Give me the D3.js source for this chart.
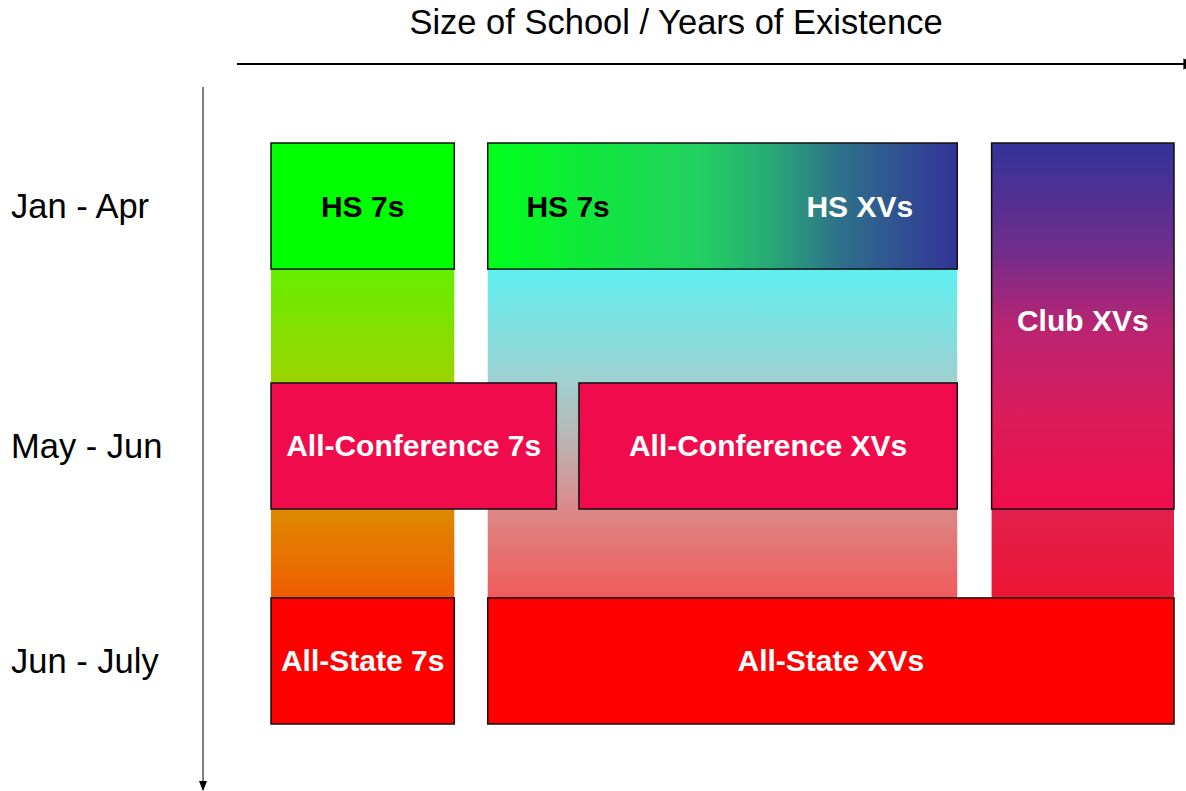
<!DOCTYPE html>
<html>
<head>
<meta charset="utf-8">
<script src="https://cdn.jsdelivr.net/npm/d3@7"></script>
<style>
  body { margin: 0; background: #fff; }
  text { font-family: "Liberation Sans", Arial, sans-serif; }
</style>
</head>
<body>
<svg id="chart" width="1186" height="791"></svg>
<script>
// rows (time of year) and the boxes laid on the grid (x in size units 0-100, y in season units 0-100)
var rowLabels = ["Jan - Apr", "May - Jun", "Jun - July"];
var rowSpans = [[0, 21.7], [41.3, 63.0], [78.3, 100]];

// background strips that join the boxes
var strips = [
  {name: "colA", x0: 0, x1: 20.3, y0: 21.7, y1: 78.3},
  {name: "colB", x0: 24.0, x1: 76.0, y0: 21.7, y1: 78.3},
  {name: "colC", x0: 79.8, x1: 100, y0: 63.0, y1: 78.3}
];

var boxes = [
  {label: "HS 7s", x0: 0, x1: 20.3, row: 0, fill: "hs7", ink: "black"},
  {label: "", x0: 24.0, x1: 76.0, row: 0, fill: "hsMix", ink: "black"},
  {label: "Club XVs", x0: 79.8, x1: 100, row: 0, rowEnd: 1, fill: "club", ink: "white"},
  {label: "All-Conference 7s", x0: 0, x1: 31.6, row: 1, fill: "conf", ink: "white"},
  {label: "All-Conference XVs", x0: 34.1, x1: 76.0, row: 1, fill: "conf", ink: "white"},
  {label: "All-State 7s", x0: 0, x1: 20.3, row: 2, fill: "state", ink: "white"},
  {label: "All-State XVs", x0: 24.0, x1: 100, row: 2, fill: "state", ink: "white"}
];

// two labels share the mixed HS box
var mixLabels = [
  {label: "HS 7s", at: 32.9, ink: "black"},
  {label: "HS XVs", at: 65.2, ink: "white"}
];

var svg = d3.select("#chart");
var x = d3.scaleLinear().domain([0, 100]).range([271, 1174]);
var y = d3.scaleLinear().domain([0, 100]).range([143, 724]);

var defs = svg.append("defs");

function grad(id, stops, horizontal) {
  var g = defs.append("linearGradient").attr("id", id)
    .attr("x1", 0).attr("y1", 0)
    .attr("x2", horizontal ? 1 : 0).attr("y2", horizontal ? 0 : 1);
  stops.forEach(function(s) {
    g.append("stop").attr("offset", s[0]).attr("stop-color", s[1]);
  });
}

grad("colA", [[0, "#66ee00"], [0.34, "#9bd400"], [0.73, "#de8a00"], [1, "#f05c00"]]);
grad("colB", [[0, "#60f0f0"], [0.34, "#a0d0d0"], [0.52, "#bbb4b4"], [0.73, "#dc8888"], [1, "#f05a5a"]]);
grad("colC", [[0, "#e0204c"], [1, "#ee1535"]]);
grad("club", [[0, "#333399"], [0.3, "#722d8c"], [0.5, "#b92472"], [0.75, "#dc1c5c"], [1, "#f00c4c"]]);
grad("hsMix", [[0, "#00ff1a"], [0.45, "#22d060"], [0.6, "#28aa76"], [0.75, "#2e718a"], [1, "#333399"]], true);
var solid = {hs7: "#00ff00", conf: "#f00c4c", state: "#ff0000"};

function fillOf(f) { return solid[f] || "url(#" + f + ")"; }

// strips
svg.selectAll("rect.strip").data(strips).enter().append("rect")
  .attr("class", "strip")
  .attr("x", function(d) { return x(d.x0); })
  .attr("y", function(d) { return y(d.y0); })
  .attr("width", function(d) { return x(d.x1) - x(d.x0); })
  .attr("height", function(d) { return y(d.y1) - y(d.y0); })
  .attr("fill", function(d) { return "url(#" + d.name + ")"; });

// boxes
svg.selectAll("rect.box").data(boxes).enter().append("rect")
  .attr("class", "box")
  .attr("x", function(d) { return x(d.x0); })
  .attr("y", function(d) { return y(rowSpans[d.row][0]); })
  .attr("width", function(d) { return x(d.x1) - x(d.x0); })
  .attr("height", function(d) {
    var end = d.rowEnd !== undefined ? d.rowEnd : d.row;
    return y(rowSpans[end][1]) - y(rowSpans[d.row][0]);
  })
  .attr("fill", function(d) { return fillOf(d.fill); })
  .attr("stroke", "#111")
  .attr("stroke-width", 1.5);

// box labels
svg.selectAll("text.box").data(boxes.filter(function(d) { return d.label; })).enter().append("text")
  .attr("class", "box")
  .attr("x", function(d) { return (x(d.x0) + x(d.x1)) / 2; })
  .attr("y", function(d) {
    if (d.rowEnd !== undefined) return y(rowSpans[d.row][0]) + 177;
    return (y(rowSpans[d.row][0]) + y(rowSpans[d.row][1])) / 2;
  })
  .attr("dy", "0.35em")
  .attr("text-anchor", "middle")
  .attr("font-size", 30)
  .attr("font-weight", "bold")
  .attr("fill", function(d) { return d.ink; })
  .text(function(d) { return d.label; });

svg.selectAll("text.mix").data(mixLabels).enter().append("text")
  .attr("class", "mix")
  .attr("x", function(d) { return x(d.at); })
  .attr("y", (y(rowSpans[0][0]) + y(rowSpans[0][1])) / 2)
  .attr("dy", "0.35em")
  .attr("text-anchor", "middle")
  .attr("font-size", 30)
  .attr("font-weight", "bold")
  .attr("fill", function(d) { return d.ink; })
  .text(function(d) { return d.label; });

// row labels
svg.selectAll("text.row").data(rowLabels).enter().append("text")
  .attr("class", "row")
  .attr("x", 11)
  .attr("y", function(d, i) { return (y(rowSpans[i][0]) + y(rowSpans[i][1])) / 2; })
  .attr("dy", "0.35em")
  .attr("font-size", 34.5)
  .attr("fill", "#000")
  .text(function(d) { return d; });

// arrows
defs.append("marker").attr("id", "arrow")
  .attr("viewBox", "0 0 10 10").attr("refX", 9).attr("refY", 5)
  .attr("markerWidth", 7).attr("markerHeight", 7).attr("orient", "auto")
  .append("path").attr("d", "M0,1L10,5L0,9Z").attr("fill", "#000");

svg.append("line")
  .attr("x1", 237).attr("x2", 1196).attr("y1", 64).attr("y2", 64)
  .attr("stroke", "#000").attr("stroke-width", 2)
  .attr("marker-end", "url(#arrow)");

svg.append("line")
  .attr("x1", 203).attr("x2", 203).attr("y1", 87).attr("y2", 790)
  .attr("stroke", "#555").attr("stroke-width", 1.5)
  .attr("marker-end", "url(#arrow)");

svg.append("text")
  .attr("x", 676).attr("y", 34)
  .attr("text-anchor", "middle")
  .attr("font-size", 34.5)
  .attr("fill", "#000")
  .text("Size of School / Years of Existence");
</script>
</body>
</html>
